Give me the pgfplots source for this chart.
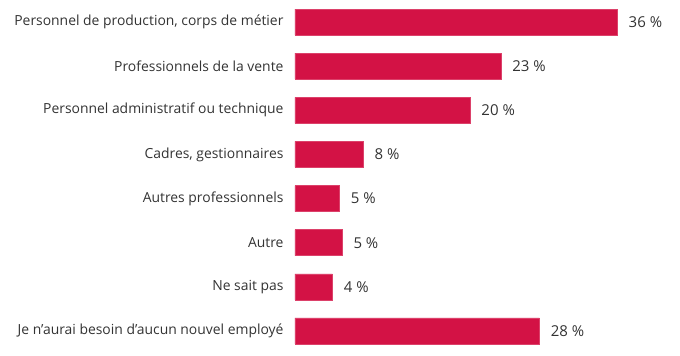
\documentclass[border=0pt]{standalone}
\usepackage{fontspec}
\setmainfont{Open Sans}
\usepackage{pgfplots}
\pgfplotsset{compat=1.18}
\definecolor{barred}{HTML}{D31245}
\definecolor{txt}{HTML}{333333}
\begin{document}
\begin{tikzpicture}[x=1pt,y=1pt]
\path[use as bounding box] (-295,-3) rectangle (385,353);
\begin{axis}[
  at={(0,0)}, anchor=south west,
  scale only axis, width=385pt, height=353pt,
  xbar, bar width=26pt,
  xmin=0, xmax=43.02,
  ymin=-0.5, ymax=7.5, y dir=reverse,
  axis line style={draw=none},
  xtick=\empty,
  ytick={0,1,2,3,4,5,6,7},
  yticklabels={{Personnel de production, corps de métier}, Professionnels de la vente, Personnel administratif ou technique, {Cadres, gestionnaires}, Autres professionnels, Autre, Ne sait pas, Je n’aurai besoin d’aucun nouvel employé},
  major tick length=0pt,
  yticklabel style={font=\fontsize{13.9}{16}\selectfont, text=txt, xshift=-8pt},
  point meta=explicit symbolic,
  nodes near coords,
  nodes near coords style={font=\fontsize{15}{17}\selectfont, text=txt, anchor=west, xshift=8pt},
  clip=false,
]
\addplot[fill=barred, draw=barred!80!white, line width=0.4pt] coordinates {
(36,0) [36 \%]
(23,1) [23 \%]
(19.55,2) [20 \%]
(7.6,3) [8 \%]
(4.95,4) [5 \%]
(5.25,5) [5 \%]
(4.17,6) [4 \%]
(27.3,7) [28 \%]};
\end{axis}
\end{tikzpicture}
\end{document}
